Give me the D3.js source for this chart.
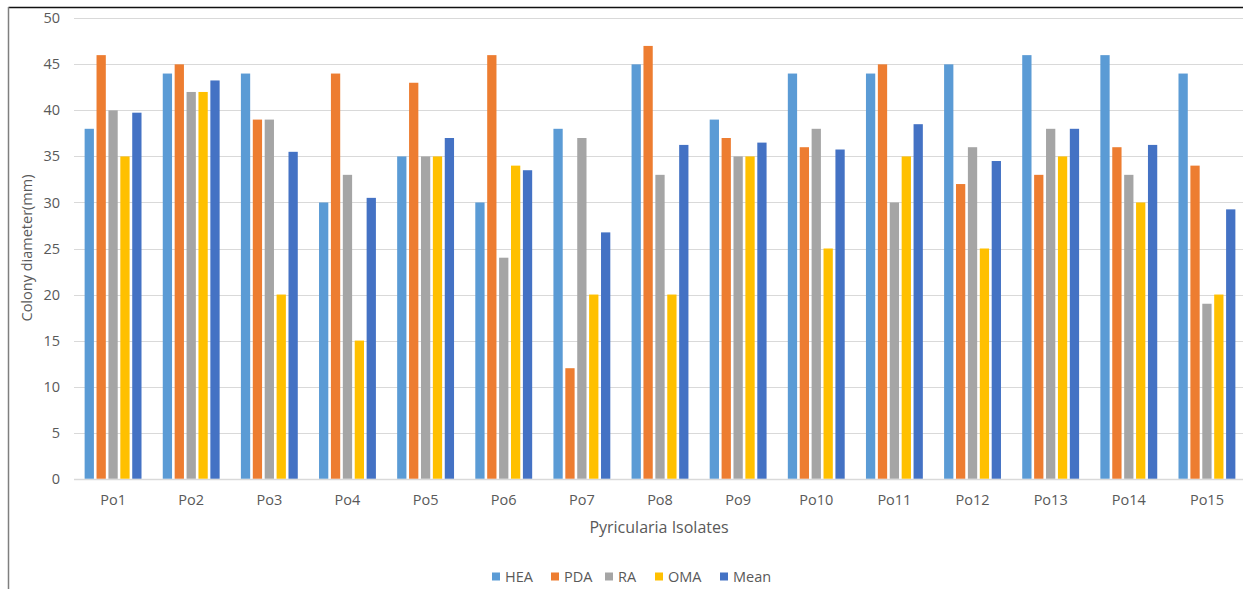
<!DOCTYPE html>
<html>
<head>
<meta charset="utf-8">
<script src="https://cdn.jsdelivr.net/npm/d3@7"></script>
<style>
  html, body { margin: 0; padding: 0; background: #fff; }
  svg { display: block; }
  text { font-family: "Open Sans", "Liberation Sans", sans-serif; fill: #595959; }
</style>
</head>
<body>
<svg id="chart" width="1243" height="589"></svg>
<script>
// Colony diameter (mm) of Pyricularia isolates on four media, plus their mean
const isolates = ["Po1","Po2","Po3","Po4","Po5","Po6","Po7","Po8","Po9","Po10","Po11","Po12","Po13","Po14","Po15"];
const HEA  = [38, 44, 44, 30, 35, 30, 38, 45, 39, 44, 44, 45, 46, 46, 44];
const PDA  = [46, 45, 39, 44, 43, 46, 12, 47, 37, 36, 45, 32, 33, 36, 34];
const RA   = [40, 42, 39, 33, 35, 24, 37, 33, 35, 38, 30, 36, 38, 33, 19];
const OMA  = [35, 42, 20, 15, 35, 34, 20, 20, 35, 25, 35, 25, 35, 30, 20];
const Mean = [39.75, 43.25, 35.5, 30.5, 37, 33.5, 26.75, 36.25, 36.5, 35.75, 38.5, 34.5, 38, 36.25, 29.25];
const seriesNames = ["HEA", "PDA", "RA", "OMA", "Mean"];
const seriesValues = [HEA, PDA, RA, OMA, Mean];
const seriesColors = ["#5B9BD5", "#ED7D31", "#A5A5A5", "#FFC000", "#4472C4"];
const yTicks = [0, 5, 10, 15, 20, 25, 30, 35, 40, 45, 50];

const svg = d3.select("#chart");

// outer frame (top and left edges)
svg.append("line").attr("x1", 8.5).attr("x2", 1243).attr("y1", 7.5).attr("y2", 7.5)
  .attr("stroke", "#111").attr("stroke-width", 1.5);
svg.append("line").attr("x1", 8.5).attr("x2", 8.5).attr("y1", 7).attr("y2", 589)
  .attr("stroke", "#7f7f7f").attr("stroke-width", 1.5);

const x0 = d3.scaleBand().domain(isolates).range([74, 1246]).paddingInner(0.272).paddingOuter(0.136);
const x1 = d3.scaleBand().domain(seriesNames).range([0, x0.bandwidth()]).paddingInner(0.22);
const y = d3.scaleLinear().domain([0, 50]).range([478.7, 18.3]);

// gridlines
svg.append("g").selectAll("line").data(yTicks).join("line")
  .attr("x1", 74).attr("x2", 1246)
  .attr("y1", d => Math.round(y(d)) + 0.5).attr("y2", d => Math.round(y(d)) + 0.5)
  .attr("stroke", "#d9d9d9").attr("stroke-width", d => d === 0 ? 1.6 : 1);

// y tick labels
svg.append("g").selectAll("text").data(yTicks).join("text")
  .attr("x", 60).attr("y", d => y(d)).attr("dy", "0.35em")
  .attr("text-anchor", "end").attr("font-size", 14.5)
  .text(d => d);

// bars
const groups = svg.append("g").selectAll("g").data(isolates).join("g")
  .attr("transform", d => `translate(${x0(d)},0)`);
groups.selectAll("rect")
  .data((d, i) => seriesNames.map((s, k) => ({ s, v: seriesValues[k][i], c: seriesColors[k] })))
  .join("rect")
  .attr("x", d => x1(d.s)).attr("width", x1.bandwidth())
  .attr("y", d => y(d.v)).attr("height", d => y(0) - y(d.v))
  .attr("fill", d => d.c);

// x tick labels
svg.append("g").selectAll("text").data(isolates).join("text")
  .attr("x", d => x0(d) + x0.bandwidth() / 2).attr("y", 500).attr("dy", "0.35em")
  .attr("text-anchor", "middle").attr("font-size", 14.5)
  .text(d => d);

// axis titles
svg.append("text").attr("x", 659).attr("y", 527).attr("dy", "0.35em")
  .attr("text-anchor", "middle").attr("font-size", 16)
  .text("Pyricularia Isolates");
svg.append("text").attr("transform", "translate(27,248) rotate(-90)").attr("dy", "0.35em")
  .attr("text-anchor", "middle").attr("font-size", 14.5)
  .text("Colony diameter(mm)");

// legend
const legendX = [492, 551, 605, 655, 720];
const legend = svg.append("g").selectAll("g").data(seriesNames).join("g")
  .attr("transform", (d, i) => `translate(${legendX[i]},577)`);
legend.append("rect").attr("x", 0).attr("y", -4.5).attr("width", 8).attr("height", 8)
  .attr("fill", (d, i) => seriesColors[i]);
legend.append("text").attr("x", 13).attr("y", 0).attr("dy", "0.35em")
  .attr("font-size", 14.5).text(d => d);
</script>
</body>
</html>
